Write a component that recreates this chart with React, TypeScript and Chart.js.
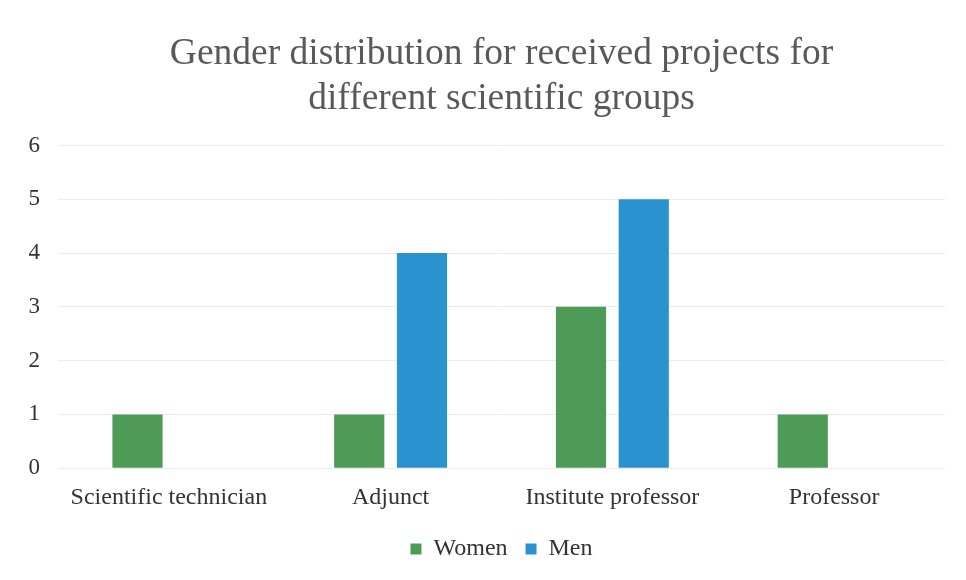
import React, { useEffect, useRef } from "react";
import { Chart, registerables } from "chart.js";

Chart.register(...registerables);

const categories = ["Scientific technician", "Adjunct", "Institute professor", "Professor"];
const women = [1, 1, 3, 1];
const men = [null, 4, 5, null];
const titleLines = ["Gender distribution for received projects for", "different scientific groups"];

const SERIF = "'Liberation Serif', 'Times New Roman', serif";

export default function App() {
  const ref = useRef<HTMLCanvasElement | null>(null);
  useEffect(() => {
    document.body.style.margin = "0";
    const chart = new Chart(ref.current as HTMLCanvasElement, {
      type: "bar",
      data: {
        labels: categories,
        datasets: [
          { label: "Women", data: women, backgroundColor: "#4e9a57" },
          { label: "Men", data: men as any, backgroundColor: "#2a93cf" },
        ],
      },
      options: {
        responsive: false,
        animation: false,
        maintainAspectRatio: false,
        layout: { padding: { left: 0, right: 21, top: 0, bottom: 9 } },
        datasets: { bar: { categoryPercentage: 0.566, barPercentage: 0.8 } } as any,
        plugins: {
          title: {
            display: true,
            fullSize: false,
            text: titleLines,
            color: "#595959",
            font: { family: SERIF, size: 37.5, weight: "normal", lineHeight: 1.22 },
            padding: { top: 31, bottom: 23 },
          },
          legend: {
            position: "bottom",
            fullSize: false,
            labels: {
              color: "#333",
              boxWidth: 11,
              boxHeight: 11,
              padding: 18,
              font: { family: SERIF, size: 24 },
            },
          },
          tooltip: { enabled: false },
        },
        scales: {
          x: {
            grid: { display: false },
            border: { display: false },
            ticks: {
              color: "#333",
              padding: 7,
              maxRotation: 0,
              font: { family: SERIF, size: 24 },
            },
          },
          y: {
            min: 0,
            max: 6,
            afterFit: (s: any) => { s.width = 58; },
            grid: { color: "#ececec", drawTicks: false },
            border: { display: false },
            ticks: {
              stepSize: 1,
              color: "#333",
              padding: 18,
              font: { family: SERIF, size: 23 },
            },
          },
        },
      },
    });
    return () => chart.destroy();
  }, []);
  return (
    <div style={{ width: 966, height: 580 }}>
      <canvas ref={ref} width={966} height={580} />
    </div>
  );
}
